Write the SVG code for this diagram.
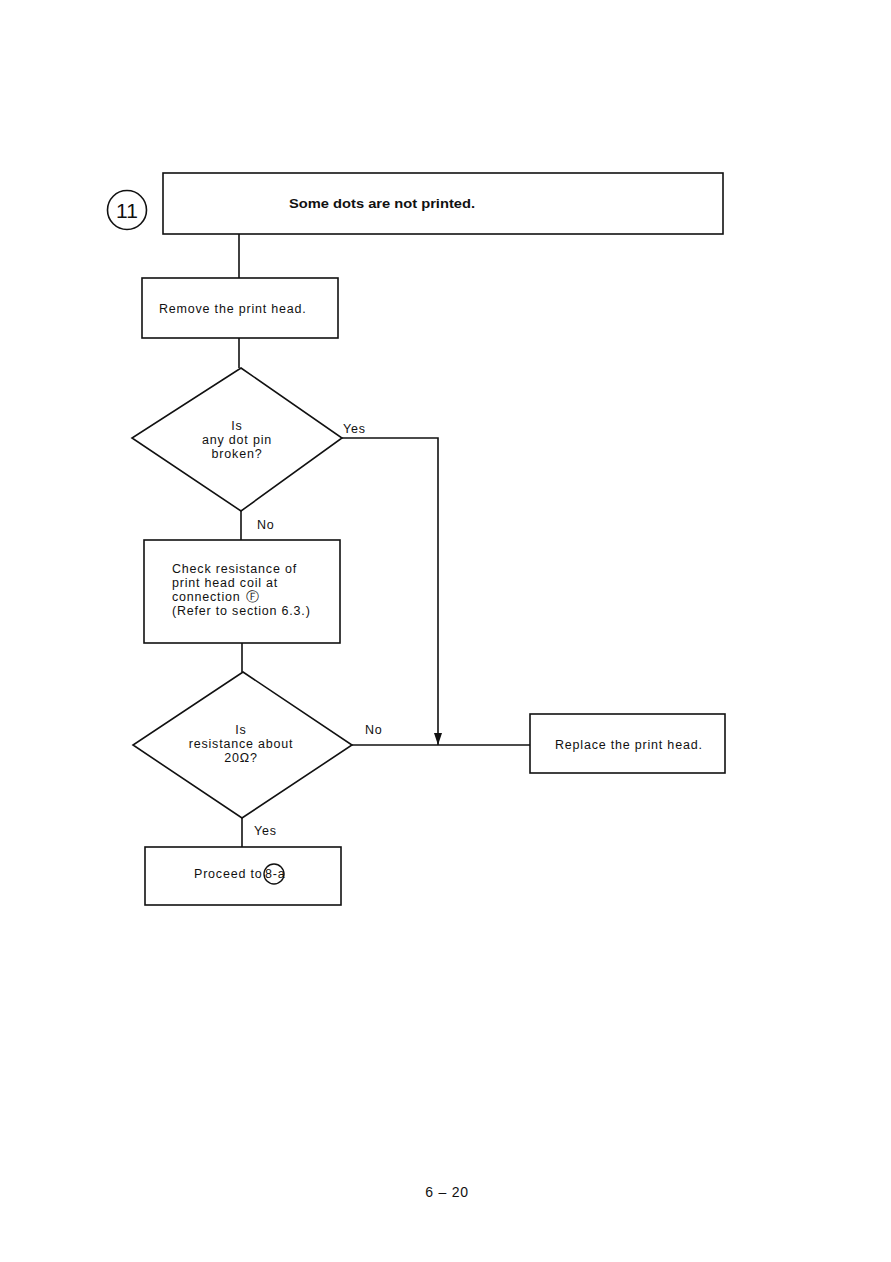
<svg xmlns="http://www.w3.org/2000/svg" width="891" height="1262" viewBox="0 0 891 1262">
<style>
.box{fill:#fff;stroke:#111;stroke-width:1.6}
.ln{fill:none;stroke:#111;stroke-width:1.6}
.t{font-family:"Liberation Sans",Arial,sans-serif;font-size:12.5px;letter-spacing:0.8px;fill:#111}
.c{text-anchor:middle}
.b{font-weight:bold;letter-spacing:0}
</style>
<defs>
<marker id="arr" markerWidth="12" markerHeight="8" refX="12" refY="4" orient="auto" markerUnits="userSpaceOnUse" viewBox="0 0 12 8">
<path d="M0,0 L12,4 L0,8 Z" fill="#111"/>
</marker>
</defs>
<rect width="891" height="1262" fill="#fff"/>
<g id="connectors">
<line class="ln" x1="239" y1="234" x2="239" y2="278"/>
<line class="ln" x1="239" y1="338" x2="239" y2="368"/>
<line class="ln" x1="241" y1="511" x2="241" y2="540"/>
<line class="ln" x1="242" y1="643" x2="242" y2="672"/>
<line class="ln" x1="242" y1="818" x2="242" y2="847"/>
<polyline class="ln" points="342,438 438,438 438,745" marker-end="url(#arr)"/>
<line class="ln" x1="352" y1="745" x2="530" y2="745"/>
<text class="t" x="343" y="433">Yes</text>
<text class="t" x="257" y="529">No</text>
<text class="t" x="365" y="734">No</text>
<text class="t" x="254" y="835">Yes</text>
</g>
<g id="label11">
<circle cx="127" cy="210" r="19.5" fill="#fff" stroke="#111" stroke-width="1.6"/>
<text class="t c" x="127" y="218" style="font-size:21px;letter-spacing:0">11</text>
</g>
<g id="title">
<rect class="box" x="163" y="173" width="560" height="61"/>
<text class="t b" x="289" y="208" textLength="186" lengthAdjust="spacingAndGlyphs">Some dots are not printed.</text>
</g>
<g id="remove">
<rect class="box" x="142" y="278" width="196" height="60"/>
<text class="t" x="159" y="313">Remove the print head.</text>
</g>
<g id="decision1">
<polygon class="box" points="241,368 342,438 241,511 132,438"/>
<text class="t c" x="237" y="430">Is</text>
<text class="t c" x="237" y="444">any dot pin</text>
<text class="t c" x="237" y="458">broken?</text>
</g>
<g id="check">
<rect class="box" x="144" y="540" width="196" height="103"/>
<text class="t" x="172" y="573">Check resistance of</text>
<text class="t" x="172" y="587">print head coil at</text>
<text class="t" x="172" y="601">connection<tspan x="246" font-family="DejaVu Sans" font-size="13" letter-spacing="0">Ⓕ</tspan></text>
<text class="t" x="172" y="615">(Refer to section 6.3.)</text>
</g>
<g id="decision2">
<polygon class="box" points="243,672 352,745 242,818 133,745"/>
<text class="t c" x="241" y="734">Is</text>
<text class="t c" x="241" y="748">resistance about</text>
<text class="t c" x="241" y="762">20Ω?</text>
</g>
<g id="replace">
<rect class="box" x="530" y="714" width="195" height="59"/>
<text class="t" x="555" y="749">Replace the print head.</text>
</g>
<g id="proceed">
<rect class="box" x="145" y="847" width="196" height="58"/>
<text class="t" x="194" y="878">Proceed to<tspan x="265">8-a</tspan></text>
<circle cx="274" cy="874" r="10" fill="none" stroke="#111" stroke-width="1.4"/>
</g>
<text class="t c" x="447" y="1197" style="font-size:14px">6 – 20</text>
</svg>
